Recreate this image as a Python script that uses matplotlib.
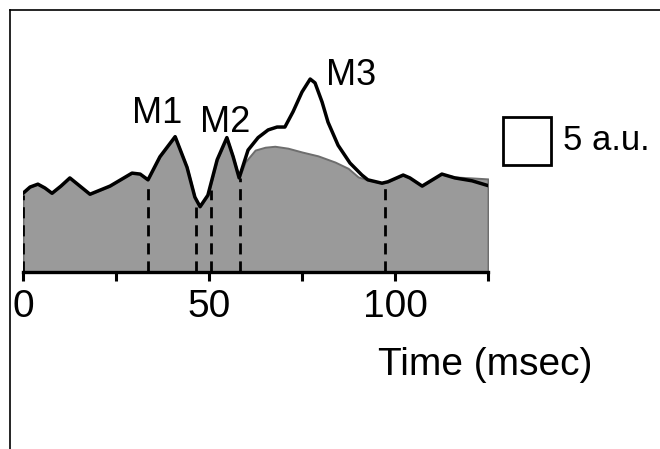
import numpy as np
import matplotlib
matplotlib.use("Agg")
import matplotlib.pyplot as plt
from matplotlib.patches import Rectangle
from matplotlib.lines import Line2D

plt.rcParams['font.family'] = ['Liberation Sans', 'DejaVu Sans']

# total response (black line), time in msec, amplitude in a.u.
t_total = [0, 1.9, 4.0, 5.9, 7.8, 10.2, 12.6, 15.3, 18.0, 23.4, 29.3, 31.5,
           33.6, 36.8, 40.9, 44.1, 46.2, 47.6, 49.7, 52.2, 54.8, 56.5, 58.1,
           60.5, 63.2, 65.9, 68.3, 70.4, 72.6, 75.0, 77.2, 78.5, 80.4, 82.0,
           84.7, 87.9, 91.1, 92.7, 96.5, 98.1, 102.2, 104.0, 107.3, 112.6,
           116.1, 120.7, 125]
v_total = [8.2, 8.85, 9.15, 8.75, 8.2, 8.95, 9.8, 8.95, 8.1, 8.95, 10.3, 10.2,
           9.6, 12.0, 14.1, 10.9, 7.8, 6.8, 8.0, 11.7, 14.0, 12.0, 9.8,
           12.7, 14.0, 14.8, 15.1, 15.1, 16.7, 18.75, 20.1, 19.7, 17.7, 15.6,
           13.2, 11.35, 10.1, 9.6, 9.25, 9.4, 10.1, 9.8, 8.95, 10.2,
           9.8, 9.5, 9.0]

# baseline response (grey fill)
t_base = [0, 1.9, 4.0, 5.9, 7.8, 10.2, 12.6, 15.3, 18.0, 23.4, 29.3, 31.5,
          33.6, 36.8, 40.9, 44.1, 46.2, 47.6, 49.7, 52.2, 54.8, 56.5, 58.1,
          59.7, 62.4, 65.1, 67.7, 71.2, 75.0, 79.3, 83.9, 87.4, 90.1, 92.7,
          96.5, 98.1, 102.2, 104.0, 107.3, 112.6, 116.1, 120.7, 125]
v_base = [8.2, 8.85, 9.15, 8.75, 8.2, 8.95, 9.8, 8.95, 8.1, 8.95, 10.3, 10.2,
          9.6, 12.0, 14.1, 10.9, 7.8, 6.8, 8.0, 11.7, 14.0, 12.0, 9.8,
          11.45, 12.7, 13.0, 13.1, 12.9, 12.5, 12.1, 11.45, 10.8, 9.9, 9.6,
          9.25, 9.4, 10.1, 9.8, 8.95, 10.2, 9.9, 9.8, 9.7]

# dashed markers
t_marks = [0, 33.6, 46.5, 50.5, 58.3, 97.3]
h_marks = [8.0, 9.4, 6.8, 8.5, 9.8, 9.2]

peak_labels = ["M1", "M2", "M3"]
peak_t = [36.0, 54.3, 88.3]
peak_v = [16.5, 15.6, 20.5]

fig = plt.figure(figsize=(6.6, 4.49), dpi=100)
ax = fig.add_axes([23 / 660, 1 - 272 / 449, 465 / 660, 262 / 449])
ax.set_xlim(0, 125)
ax.set_ylim(0, 262 / 9.6)

ax.fill_between(t_base, 0, v_base, color='#9a9a9a', edgecolor='#6e6e6e', linewidth=1.4, zorder=1)
ax.plot(t_total, v_total, color='black', linewidth=2.5, zorder=3,
        solid_joinstyle='round', solid_capstyle='round')
ax.vlines(t_marks, 0, h_marks, colors='black', linestyles=(0, (4, 2.5)), linewidth=2, zorder=2)

for lab, x, y in zip(peak_labels, peak_t, peak_v):
    ax.text(x, y, lab, fontsize=26, ha='center', va='center')

# scale box 5 a.u.
ax.add_patch(Rectangle((129.0, 11.15), 12.9, 5.0, fill=False, edgecolor='black', linewidth=2, clip_on=False))
ax.text(145.2, 13.65, "5 a.u.", fontsize=25, ha='left', va='center')

for s in ['top', 'right', 'left']:
    ax.spines[s].set_visible(False)
ax.spines['bottom'].set_linewidth(2.4)
ax.set_yticks([])
ax.set_xticks([0, 25, 50, 75, 100, 125])
ax.set_xticklabels(["0", "", "50", "", "100", ""])
ax.tick_params(axis='x', direction='out', length=6.5, width=2.2, labelsize=28, pad=6)
ax.text(124.2, -9.7, "Time (msec)", fontsize=28, ha='center', va='center')

# frame lines
fig.add_artist(Line2D([10 / 660, 1], [1 - 10 / 449, 1 - 10 / 449], color='black', linewidth=1.2))
fig.add_artist(Line2D([10 / 660, 10 / 660], [0, 1 - 10 / 449], color='black', linewidth=1.2))

fig.savefig("out.png", dpi=100)
